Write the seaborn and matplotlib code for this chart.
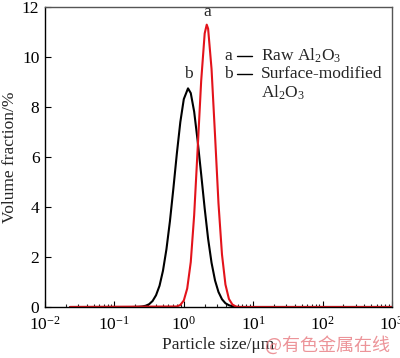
import matplotlib
matplotlib.use("Agg")
import matplotlib.pyplot as plt
import matplotlib.ticker as mticker
import numpy as np
import seaborn as sns

# particle size (um) and volume fraction (%)
size_raw = [0.023, 0.79, 0.89, 1.0, 1.12, 1.26, 1.41, 1.58, 1.78, 2.0, 2.14, 2.24,
            2.51, 2.82, 3.16, 3.55, 3.98, 4.47, 5.01, 5.62, 6.31, 1000.0]
frac_raw = [0.0, 0.02, 0.08, 0.26, 0.74, 1.80, 3.67, 6.28, 9.05, 10.95, 11.3, 11.14,
            9.53, 6.86, 4.15, 2.10, 0.90, 0.32, 0.10, 0.02, 0.0, 0.0]

size_mod = [0.023, 0.178, 0.200, 0.224, 0.251, 0.282, 0.316, 0.355, 0.398, 0.447,
            0.501, 0.562, 0.631, 0.708, 0.794, 0.891, 1.0, 1.15, 1.26, 1.41, 1.58,
            1.78, 2.0, 2.24, 2.51, 2.82, 3.16, 3.55, 3.98, 4.47, 5.01, 5.62, 1000.0]
frac_mod = [0.0, 0.0, 0.003, 0.008, 0.021, 0.05, 0.11, 0.24, 0.47, 0.85,
            1.45, 2.31, 3.43, 4.75, 6.14, 7.40, 8.32, 8.75, 8.56, 7.82, 6.67,
            5.31, 3.94, 2.73, 1.77, 1.06, 0.60, 0.31, 0.15, 0.07, 0.03, 0.0, 0.0]

legend_tags = ["a", "b"]
legend_names = ["Raw Al$_2$O$_3$", "Surface-modified"]

FS = 12.5

sns.set_style("ticks")
plt.rcParams["font.family"] = ["Liberation Serif", "DejaVu Serif"]
plt.rcParams["mathtext.fontset"] = "custom"
plt.rcParams["mathtext.rm"] = "Liberation Serif"
plt.rcParams["mathtext.it"] = "Liberation Serif:italic"

fig = plt.figure(figsize=(4.0, 3.58), dpi=100)
ax = fig.add_axes([0.1125, 0.1425, 0.8675, 0.8375])

sns.lineplot(x=size_mod, y=frac_mod, ax=ax, color="black", lw=1.5)
sns.lineplot(x=size_raw, y=frac_raw, ax=ax, color="#e3131b", lw=1.5)

ax.set_xscale("log")
ax.set_xlim(1e-2, 1e3)
ax.set_ylim(0, 12)
ax.set_yticks([0, 2, 4, 6, 8, 10, 12])
ax.xaxis.set_major_locator(mticker.LogLocator(base=10, numticks=10))
ax.xaxis.set_minor_locator(mticker.LogLocator(base=10, subs=np.arange(2, 10), numticks=20))
ax.xaxis.set_minor_formatter(mticker.NullFormatter())

ax.tick_params(axis="both", which="major", direction="in", length=4, width=0.8,
               labelsize=FS, colors="black")
ax.tick_params(axis="x", which="major", pad=6)
ax.tick_params(axis="y", which="major", pad=4)
ax.tick_params(axis="x", which="minor", direction="in", length=2.5, width=0.8)
for side in ["left", "bottom"]:
    ax.spines[side].set_color("black")
    ax.spines[side].set_linewidth(1.0)
for side in ["top", "right"]:
    ax.spines[side].set_color("#555555")
    ax.spines[side].set_linewidth(1.0)

ax.set_xlabel("Particle size/\u03bcm", fontsize=FS, labelpad=3)
ax.set_ylabel("Volume fraction/%", fontsize=FS, labelpad=3)

# curve labels
ax.text(2.15, 11.5, "a", fontsize=FS, ha="center", va="bottom")
ax.text(1.15, 9.0, "b", fontsize=FS, ha="center", va="bottom")

# legend block
rows_y = [0.838, 0.777]
for tag, name, yy in zip(legend_tags, legend_names, rows_y):
    ax.text(0.517, yy, tag, transform=ax.transAxes, fontsize=FS, va="center", ha="left")
    ax.plot([0.553, 0.597], [yy, yy], transform=ax.transAxes, color="black", lw=1.0)
    ax.text(0.622, yy, name, transform=ax.transAxes, fontsize=FS, va="center", ha="left")
ax.text(0.622, 0.715, "Al$_2$O$_3$", transform=ax.transAxes, fontsize=FS, va="center", ha="left")

# watermark
fig.text(0.975, 0.035, "@有色金属在线", fontsize=13, color="#e87a80", alpha=0.8,
         ha="right", va="center", family=["Noto Sans CJK SC", "DejaVu Sans"])

fig.savefig("out.png", dpi=100)
